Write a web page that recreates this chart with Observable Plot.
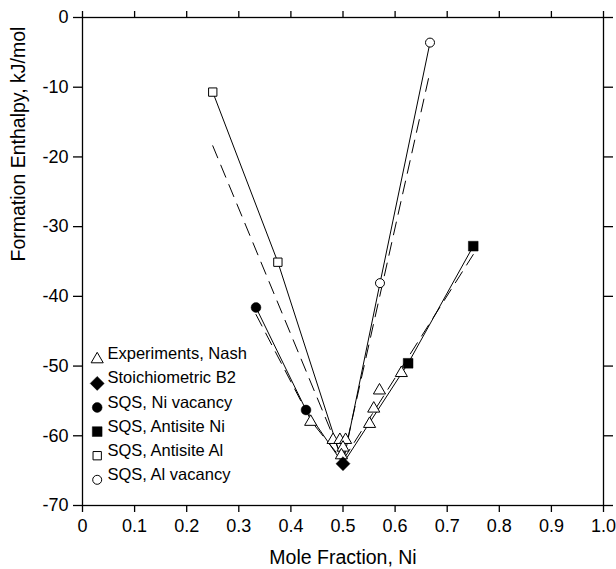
<!DOCTYPE html>
<html><head><meta charset="utf-8">
<script src="https://cdn.jsdelivr.net/npm/d3@7"></script>
<script src="https://cdn.jsdelivr.net/npm/@observablehq/plot@0.6"></script>
<style>body{margin:0;background:#fff}</style>
</head><body><div id="chart"></div>
<script>
// ---- data ----
const xTicks = [0, 0.1, 0.2, 0.3, 0.4, 0.5, 0.6, 0.7, 0.8, 0.9, 1.0];
const yTicks = [-70, -60, -50, -40, -30, -20, -10, 0];
const xTitle = "Mole Fraction, Ni";
const yTitle = "Formation Enthalpy, kJ/mol";

const expX = [0.438, 0.481, 0.494, 0.505, 0.500, 0.497, 0.551, 0.559, 0.570, 0.612];
const expY = [-58.0, -60.6, -60.6, -60.6, -61.7, -62.8, -58.3, -56.1, -53.5, -51.0];

const b2X = [0.5];
const b2Y = [-64.0];

const niVacX = [0.333, 0.429];
const niVacY = [-41.6, -56.3];

const antiNiX = [0.625, 0.75];
const antiNiY = [-49.6, -32.8];

const antiAlX = [0.25, 0.375];
const antiAlY = [-10.7, -35.1];

const alVacX = [0.571, 0.667];
const alVacY = [-38.1, -3.6];

// dashed model curves
const modAntiAlX = [0.25, 0.5];
const modAntiAlY = [-18.4, -63.5];
const modNiVacX = [0.333, 0.44, 0.5];
const modNiVacY = [-42.6, -58.0, -63.6];
const modAlVacX = [0.5, 0.667];
const modAlVacY = [-63.5, -7.8];
const modAntiNiX = [0.5, 0.75];
const modAntiNiY = [-63.5, -34.0];

const legendLabels = ["Experiments, Nash", "Stoichiometric B2", "SQS, Ni vacancy", "SQS, Antisite Ni", "SQS, Antisite Al", "SQS, Al vacancy"];

// ---- helpers ----
const pts = (xs, ys) => xs.map((x, i) => ({x, y: ys[i]}));
const withB2 = (xs, ys) => pts(xs, ys).concat(pts(b2X, b2Y)).sort((a, b) => a.x - b.x);

const styles = [
  {symbol: "triangle", fill: "white", stroke: "black", r: 4.5, strokeWidth: 1},
  {symbol: "diamond2", fill: "black", stroke: "black", r: 6.3, strokeWidth: 0.5},
  {symbol: "circle", fill: "black", stroke: "black", r: 4.9, strokeWidth: 0.5},
  {symbol: "square", fill: "black", stroke: "black", r: 5.5, strokeWidth: 0.5},
  {symbol: "square", fill: "white", stroke: "black", r: 4.7, strokeWidth: 1},
  {symbol: "circle", fill: "white", stroke: "black", r: 4.5, strokeWidth: 1}
];

const seriesPts = [
  pts(expX, expY), pts(b2X, b2Y), pts(niVacX, niVacY),
  pts(antiNiX, antiNiY), pts(antiAlX, antiAlY), pts(alVacX, alVacY)
];

const dash = "13,8";
const lineOpts = {x: "x", y: "y", stroke: "black", strokeWidth: 1};
const dashOpts = {x: "x", y: "y", stroke: "black", strokeWidth: 1, strokeDasharray: dash};

const legendMarks = legendLabels.flatMap((label, i) => {
  const dy = -25.7 - 24.1 * (legendLabels.length - 1 - i);
  const s = styles[i];
  return [
    Plot.dot([0], {frameAnchor: "bottom-left", dx: 14.7, dy, symbol: s.symbol, fill: s.fill, stroke: s.stroke, r: s.r, strokeWidth: s.strokeWidth}),
    Plot.text([label], {frameAnchor: "bottom-left", dx: 25, dy, text: d => d, textAnchor: "start", fontSize: 16.5, fill: "black"})
  ];
});

const chart = Plot.plot({
  width: 616, height: 569,
  marginLeft: 82, marginRight: 13, marginTop: 17, marginBottom: 64,
  style: {fontFamily: "'Liberation Sans', Arial, Helvetica, sans-serif", fontSize: "18px", background: "white", color: "black", overflow: "visible"},
  x: {domain: [0, 1]},
  y: {domain: [-70, 0]},
  marks: [
    Plot.axisX({anchor: "bottom", ticks: xTicks, tickSize: 7, tickPadding: 7, strokeWidth: 1.3,
      tickFormat: d => d === 0 ? "0" : d.toFixed(1), fontSize: 18, label: null}),
    Plot.axisX({anchor: "top", ticks: xTicks, tickSize: 7, strokeWidth: 1.3, tickFormat: () => "", label: null}),
    Plot.axisY({anchor: "left", ticks: yTicks, tickSize: 9, tickPadding: 5, strokeWidth: 1.3,
      tickFormat: d => String(d), fontSize: 18, label: null}),
    Plot.axisY({anchor: "right", ticks: yTicks, tickSize: 9, strokeWidth: 1.3, tickFormat: () => "", label: null}),
    Plot.frame({stroke: "black", strokeWidth: 1.3}),
    Plot.text([xTitle], {frameAnchor: "bottom", dy: 52, text: d => d, fontSize: 19.5, fill: "black", lineAnchor: "middle"}),
    Plot.text([yTitle], {frameAnchor: "left", dx: -64, text: d => d, fontSize: 19.5, fill: "black", rotate: -90, lineAnchor: "middle"}),
    // model (dashed)
    Plot.line(pts(modAntiAlX, modAntiAlY), dashOpts),
    Plot.line(pts(modNiVacX, modNiVacY), dashOpts),
    Plot.line(pts(modAlVacX, modAlVacY), dashOpts),
    Plot.line(pts(modAntiNiX, modAntiNiY), dashOpts),
    // SQS (solid)
    Plot.line(withB2(antiAlX, antiAlY), lineOpts),
    Plot.line(withB2(niVacX, niVacY), lineOpts),
    Plot.line(withB2(alVacX, alVacY), lineOpts),
    Plot.line(withB2(antiNiX, antiNiY), lineOpts),
    // points
    ...seriesPts.map((p, i) => Plot.dot(p, {x: "x", y: "y", symbol: styles[i].symbol, fill: styles[i].fill, stroke: styles[i].stroke, r: styles[i].r, strokeWidth: styles[i].strokeWidth})),
    ...legendMarks
  ]
});
document.getElementById("chart").appendChild(chart);
</script>
</body></html>
